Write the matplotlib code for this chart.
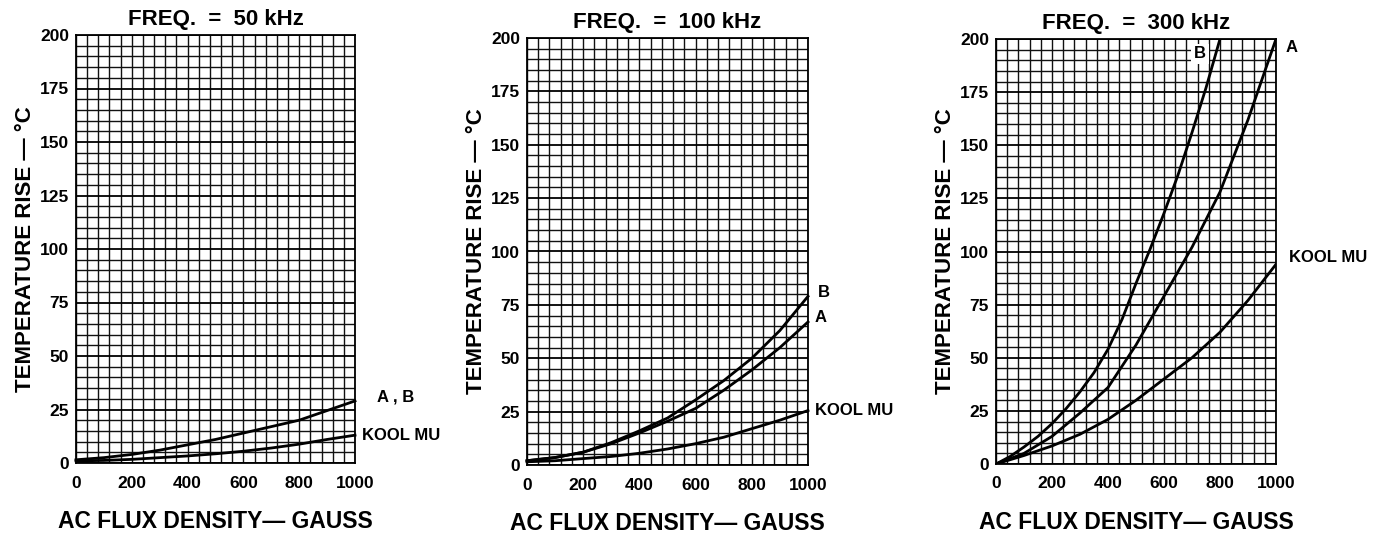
import matplotlib
matplotlib.use("Agg")
import matplotlib.pyplot as plt
import numpy as np

plt.rcParams['font.family'] = ['Liberation Sans', 'DejaVu Sans']
plt.rcParams['font.weight'] = 'bold'

titles = ["FREQ.  =  50 kHz", "FREQ.  =  100 kHz", "FREQ.  =  300 kHz"]
x_ticks = [0, 200, 400, 600, 800, 1000]
y_ticks = [0, 25, 50, 75, 100, 125, 150, 175, 200]

flux = [0, 100, 200, 300, 400, 500, 600, 700, 800, 900, 1000]
flux_b300 = [0, 50, 100, 150, 200, 250, 300, 350, 400, 450, 500, 550, 600, 650, 700, 750, 800]

# 50 kHz
ab_50 = [1.5, 2.5, 4, 6, 8.5, 11, 14, 17, 20, 24.5, 29]
kool_50 = [1, 1.2, 1.7, 2.5, 3.3, 4.3, 5.5, 7, 8.8, 11, 13]
# 100 kHz
b_100 = [2, 3.5, 6, 10.5, 16, 22, 30.5, 39.5, 50, 63, 79]
a_100 = [2, 3.5, 6, 10, 15, 20.5, 26.5, 35, 44.5, 55, 67]
kool_100 = [1.5, 2, 3, 4, 5.5, 7.5, 10, 13, 17, 21, 25.5]
# 300 kHz
b_300 = [0, 3.5, 8, 13, 19, 26, 34, 43, 54, 68, 85, 101, 118, 136, 156, 177, 200]
a_300 = [0, 5, 13, 24, 36, 56, 79, 102, 128, 162, 200]
kool_300 = [0, 4, 8.5, 14, 21, 30, 40, 50, 62, 77, 94]

fig = plt.figure(figsize=(13.83, 5.5), dpi=100)
W, H = 1383, 550
boxes = [(76, 35, 355, 463), (527, 38, 808, 465), (996, 39, 1276, 464)]
axes = []
for (l, t, r, b) in boxes:
    ax = fig.add_axes([l / W, 1 - b / H, (r - l) / W, (b - t) / H])
    axes.append(ax)

for ax, title in zip(axes, titles):
    ax.set_xlim(0, 1000)
    ax.set_ylim(0, 200)
    ax.set_xticks(x_ticks)
    ax.set_yticks(y_ticks)
    ax.set_xticks(np.arange(0, 1001, 40), minor=True)
    ax.set_yticks(np.arange(0, 201, 5), minor=True)
    ax.grid(which='both', color='#111111', linewidth=1.0)
    ax.grid(which='major', axis='y', color='black', linewidth=1.3)
    ax.tick_params(which='both', length=0, labelsize=12.5)
    ax.tick_params(axis='x', pad=9)
    ax.tick_params(axis='y', pad=5)
    for lab in ax.get_xticklabels() + ax.get_yticklabels():
        lab.set_fontweight('bold')
    for s in ax.spines.values():
        s.set_linewidth(1.3)
    ax.set_title(title, fontsize=16, fontweight='bold', pad=7)
    ax.set_xlabel("AC FLUX DENSITY\u2014 GAUSS", fontsize=16.5, fontweight='bold', labelpad=14)
    ax.set_ylabel("TEMPERATURE RISE \u2014 \u00b0C", fontsize=16, fontweight='bold', labelpad=3)

lw = 2.0
ax = axes[0]
ax.plot(flux, ab_50, color='black', lw=lw, clip_on=False)
ax.plot(flux, kool_50, color='black', lw=lw, clip_on=False)
ax.text(1080, 31, "A , B", fontsize=12, fontweight='bold', ha='left', va='center', clip_on=False)
ax.text(1025, 13, "KOOL MU", fontsize=12, fontweight='bold', ha='left', va='center', clip_on=False)

ax = axes[1]
ax.plot(flux, b_100, color='black', lw=lw, clip_on=False)
ax.plot(flux, a_100, color='black', lw=lw, clip_on=False)
ax.plot(flux, kool_100, color='black', lw=lw, clip_on=False)
ax.text(1035, 81, "B", fontsize=12, fontweight='bold', ha='left', va='center', clip_on=False)
ax.text(1025, 69, "A", fontsize=12, fontweight='bold', ha='left', va='center', clip_on=False)
ax.text(1025, 25.5, "KOOL MU", fontsize=12, fontweight='bold', ha='left', va='center', clip_on=False)

ax = axes[2]
ax.plot(flux_b300, b_300, color='black', lw=lw)
ax.plot(flux, a_300, color='black', lw=lw)
ax.plot(flux, kool_300, color='black', lw=lw)
ax.text(1035, 196, "A", fontsize=12, fontweight='bold', ha='left', va='center', clip_on=False)
ax.text(729, 193, "B", fontsize=12, fontweight='bold', ha='center', va='center',
        bbox=dict(facecolor='white', edgecolor='none', pad=2))
ax.text(1045, 97, "KOOL MU", fontsize=12, fontweight='bold', ha='left', va='center', clip_on=False)

fig.savefig("out.png", dpi=100, facecolor='white')
